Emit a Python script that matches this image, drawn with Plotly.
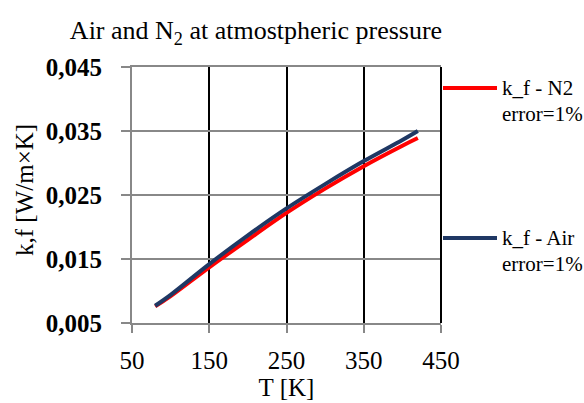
import plotly.graph_objects as go

T = [80, 100, 150, 200, 250, 300, 350, 400, 420]
k_air = [0.0077, 0.0094, 0.0142, 0.0187, 0.0229, 0.0267, 0.0303, 0.0336, 0.0350]
k_n2 = [0.0076, 0.0092, 0.0137, 0.0180, 0.0222, 0.0260, 0.0295, 0.0327, 0.0339]

x_ticks = [50, 150, 250, 350, 450]
y_ticks = [0.005, 0.015, 0.025, 0.035, 0.045]

RED = "#FF0000"
NAVY = "#1F3864"
FONT = "Liberation Serif"

fig = go.Figure()
fig.add_trace(go.Scatter(x=T, y=k_n2, mode="lines", line=dict(color=RED, width=4, shape="spline"),
                         name="k_f - N2", showlegend=False))
fig.add_trace(go.Scatter(x=T, y=k_air, mode="lines", line=dict(color=NAVY, width=4, shape="spline"),
                         name="k_f - Air", showlegend=False))

W, H = 584, 403
L, R, TOP, B = 132, 143, 67, 80
pw, ph = W - L - R, H - TOP - B

def px(xp):
    return (xp - L) / pw

def py(yp):
    return (H - B - yp) / ph

# legend drawn manually
for color, ly, lab in [(RED, 88, "k_f - N2"), (NAVY, 238, "k_f - Air")]:
    fig.add_shape(type="line", xref="paper", yref="paper", x0=px(443), x1=px(497), y0=py(ly), y1=py(ly),
                  line=dict(color=color, width=4))
    fig.add_annotation(xref="paper", yref="paper", x=px(500), y=py(ly), text=lab, showarrow=False,
                       xanchor="left", yanchor="middle", font=dict(family=FONT, size=21, color="#000"))
    fig.add_annotation(xref="paper", yref="paper", x=px(500), y=py(ly + 26), text="error=1%", showarrow=False,
                       xanchor="left", yanchor="middle", font=dict(family=FONT, size=21, color="#000"))

# y-axis title
fig.add_annotation(xref="paper", yref="paper", x=px(24), y=py(190), text="k,f [W/m×K]", showarrow=False,
                   textangle=-90, xanchor="center", yanchor="middle",
                   font=dict(family=FONT, size=25, color="#000"))

fig.update_layout(
    width=W, height=H,
    margin=dict(l=L, r=R, t=TOP, b=B),
    paper_bgcolor="white", plot_bgcolor="white",
    separators=",.",
    title=dict(text="Air and N<sub>2</sub> at atmostpheric pressure", xref="container", yref="container",
               x=256 / W, y=1 - 30 / H, xanchor="center", yanchor="middle",
               font=dict(family=FONT, size=26, color="#000")),
    xaxis=dict(range=[50, 450], tickvals=x_ticks, ticktext=[str(v) for v in x_ticks],
               showgrid=True, gridcolor="#000", gridwidth=2,
               showline=True, linecolor="#888", linewidth=2, mirror=True,
               ticks="outside", ticklen=8, tickcolor="#888", tickwidth=2,
               tickfont=dict(family=FONT, size=25, color="#000"), ticklabelstandoff=6,
               title=dict(text="T [K]", font=dict(family=FONT, size=25, color="#000"), standoff=0),
               zeroline=False),
    yaxis=dict(range=[0.005, 0.045], tickvals=y_ticks, tickformat=".3f",
               showgrid=True, gridcolor="#888", gridwidth=2,
               showline=True, linecolor="#888", linewidth=2,
               ticks="outside", ticklen=9, tickcolor="#888", tickwidth=2,
               tickfont=dict(family=FONT, size=25, color="#000", weight="bold"), ticklabelstandoff=14,
               zeroline=False),
)
fig.add_shape(type="line", xref="paper", yref="paper", x0=1, x1=1, y0=0, y1=1, line=dict(color="#000", width=2))

fig.write_html("out.html")
